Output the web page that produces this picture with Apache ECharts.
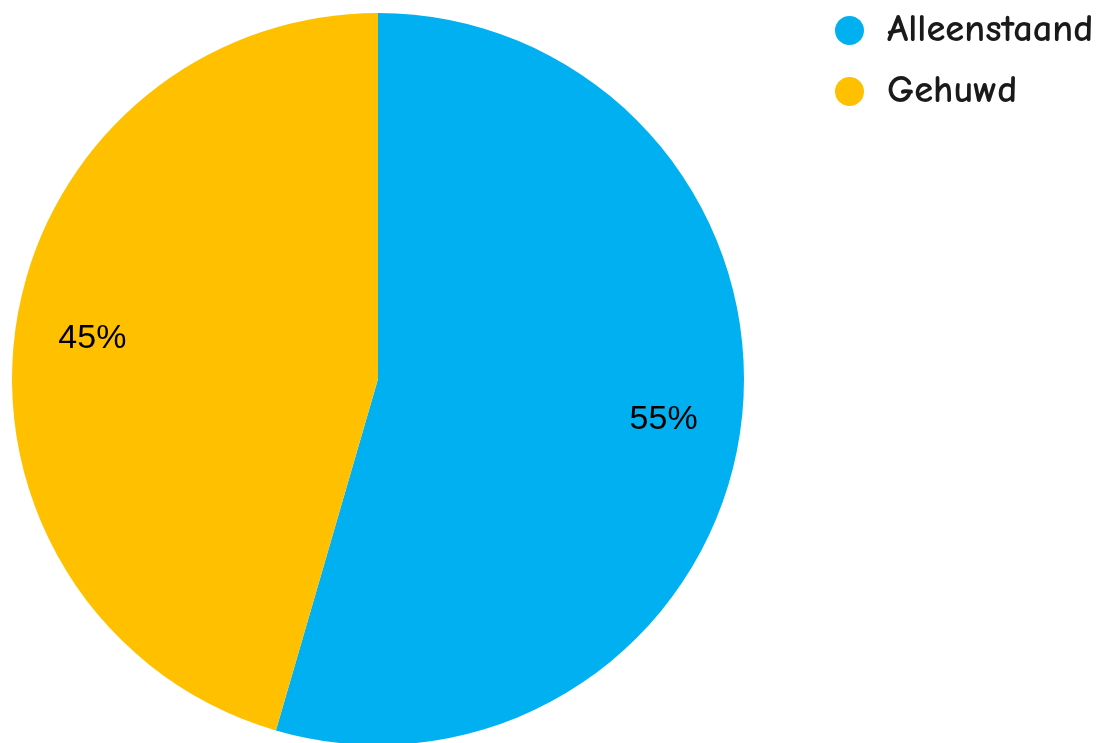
<!DOCTYPE html>
<html>
<head>
<meta charset="utf-8">
<script src="https://cdn.jsdelivr.net/npm/echarts@6/dist/echarts.min.js"></script>
<style>
html,body{margin:0;padding:0;background:#fff;}
#chart{width:1104px;height:743px;}
</style>
</head>
<body>
<div id="chart"></div>
<script>
const categories = ["Alleenstaand", "Gehuwd"];
const values = [54.5, 45.5];
const pctLabels = ["55%", "45%"];
const colors = ["#00B0F0", "#FFC000"];

const chart = echarts.init(document.getElementById('chart'));
const pieData = categories.map((c, i) => ({ name: c, value: values[i], itemStyle: { color: colors[i] } }));
const labelData = categories.map((c, i) => ({ name: c, value: values[i], label: { formatter: pctLabels[i] } }));

chart.setOption({
  animation: false,
  legend: {
    orient: 'vertical',
    left: 830,
    top: 6,
    icon: 'circle',
    itemWidth: 65,
    itemHeight: 29,
    itemGap: 22,
    data: categories,
    textStyle: { fontFamily: '"Comic Sans MS","Comic Neue","DejaVu Sans",sans-serif', fontSize: 38.5, fontWeight: 'bold', lineHeight: 32, color: '#1a1a1a' }
  },
  series: [
    {
      type: 'pie',
      center: [378, 379],
      radius: [0, 366],
      startAngle: 90,
      clockwise: true,
      label: { show: false },
      labelLine: { show: false },
      emphasis: { disabled: true },
      data: pieData
    },
    {
      type: 'pie',
      center: [378, 379],
      radius: [205, 366],
      startAngle: 90,
      clockwise: true,
      silent: true,
      itemStyle: { color: 'transparent', borderWidth: 0 },
      label: { show: true, position: 'inside', fontFamily: '"Liberation Sans", Arial, sans-serif', fontSize: 34, color: '#000' },
      labelLine: { show: false },
      emphasis: { disabled: true },
      data: labelData
    }
  ]
});
</script>
</body>
</html>
